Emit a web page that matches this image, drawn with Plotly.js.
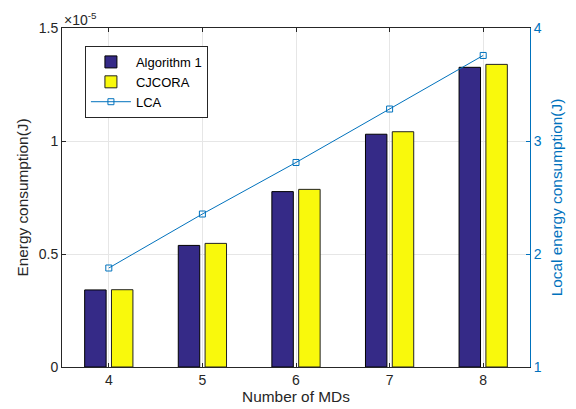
<!DOCTYPE html>
<html>
<head>
<meta charset="utf-8">
<script src="https://cdn.plot.ly/plotly-3.0.1.min.js"></script>
<style>html,body{margin:0;padding:0;background:#fff;}#chart{width:576px;height:409px;}</style>
</head>
<body>
<div id="chart"></div>
<script>
const categories = [4, 5, 6, 7, 8];
const algorithm1 = [0.341e-5, 0.538e-5, 0.776e-5, 1.030e-5, 1.326e-5];
const cjcora = [0.342e-5, 0.547e-5, 0.786e-5, 1.041e-5, 1.339e-5];
const lca = [1.876, 2.354, 2.81, 3.283, 3.757];
const leftTicks = [0, 0.5e-5, 1e-5, 1.5e-5];
const leftTickText = ['0', '0.5', '1', '1.5'];
const rightTicks = [1, 2, 3, 4];

const font = 'Liberation Sans, Arial, sans-serif';
const blue = '#0072BD';
const fs = 14;
const ts = 15.4;

const traces = [
  {type: 'bar', x: categories, y: algorithm1, name: 'Algorithm 1',
   marker: {color: '#352A87', line: {color: '#000000', width: 1}}},
  {type: 'bar', x: categories, y: cjcora, name: 'CJCORA',
   marker: {color: '#F9F90C', line: {color: '#222222', width: 1}}},
  {type: 'scatter', mode: 'lines+markers', x: categories, y: lca, name: 'LCA', yaxis: 'y2',
   line: {color: blue, width: 1}, marker: {symbol: 'square-open', size: 6, color: blue, line: {width: 1}}}
];

const layout = {
  width: 576, height: 409,
  margin: {l: 62, r: 46, t: 28, b: 42},
  paper_bgcolor: '#fff', plot_bgcolor: '#fff',
  font: {family: font, size: fs, color: '#262626'},
  barmode: 'group', bargap: 0.427, bargroupgap: 0.2,
  showlegend: true,
  legend: {x: 0.049, y: 0.947, xanchor: 'left', yanchor: 'top', bgcolor: '#fff',
           bordercolor: '#262626', borderwidth: 1, font: {family: font, size: 13, color: '#000'},
           tracegroupgap: 0, itemwidth: 40},
  xaxis: {range: [3.5, 8.5], tickvals: categories, ticktext: categories.map(String),
          showgrid: true, gridcolor: '#e6e6e6', gridwidth: 1,
          showline: true, linecolor: '#262626', linewidth: 1, mirror: 'ticks',
          ticks: 'inside', ticklen: 4, tickcolor: '#262626', zeroline: false,
          tickfont: {size: fs, color: '#262626'},
          title: {text: 'Number of MDs', font: {size: ts, color: '#262626'}, standoff: 2}},
  yaxis: {range: [0, 1.5e-5], tickvals: leftTicks, ticktext: leftTickText,
          showgrid: true, gridcolor: '#e6e6e6', gridwidth: 1,
          showline: true, linecolor: '#262626', linewidth: 1,
          ticks: 'inside', ticklen: 4, tickcolor: '#262626', zeroline: false,
          tickfont: {size: fs, color: '#262626'},
          title: {text: 'Energy consumption(J)', font: {size: ts, color: '#262626'}, standoff: 6}},
  yaxis2: {range: [1, 4], tickvals: rightTicks, overlaying: 'y', side: 'right',
           showgrid: false, showline: true, linecolor: blue, linewidth: 1,
           ticks: 'inside', ticklen: 4, tickcolor: blue, zeroline: false,
           tickfont: {size: fs, color: blue},
           title: {text: 'Local energy consumption(J)', font: {size: ts, color: blue}, standoff: 10}},
  annotations: [{xref: 'paper', yref: 'paper', x: 0, y: 1, xanchor: 'left', yanchor: 'bottom',
                 yshift: -2, showarrow: false, text: '×10<sup>-5</sup>',
                 font: {family: font, size: fs, color: '#262626'}}]
};

Plotly.newPlot('chart', traces, layout, {displayModeBar: false, staticPlot: true});
</script>
</body>
</html>
